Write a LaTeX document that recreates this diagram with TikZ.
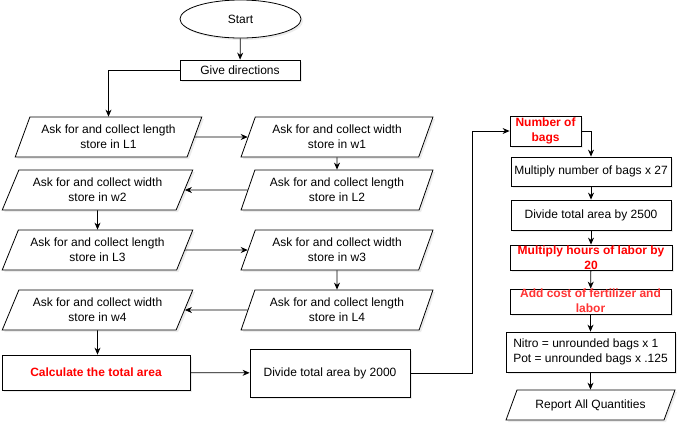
\documentclass[tikz,border=0pt]{standalone}
\usepackage{fontspec}
\setmainfont{Liberation Sans}
\usetikzlibrary{shapes.geometric,arrows.meta,shadows}
\definecolor{lred}{HTML}{FF3333}
\begin{document}
\begin{tikzpicture}[x=1pt,y=-1pt,
  every node/.style={font=\fontsize{12}{15}\selectfont, text=black, inner sep=0pt},
  shd/.style={drop shadow={shadow xshift=2pt, shadow yshift=-2pt, opacity=0.15}},
  box/.style={draw, line width=0.8pt, fill=white, rectangle, align=center, shd},
  para/.style 2 args={draw, line width=0.8pt, fill=white, trapezium, trapezium stretches=true,
    trapezium left angle=#1, trapezium right angle=#2, align=center, shd},
  arr/.style={-{Stealth[length=7pt,width=6pt]}, line width=0.8pt},
  redb/.style={text=red, font=\fontsize{12}{15}\selectfont\bfseries},
]
\useasboundingbox (0,0) rectangle (687,432);

% left part
\node[draw, ellipse, line width=0.8pt, fill=white, shd, minimum width=121, minimum height=38] (start) at (240.5,19) {Start};
\node[box, minimum width=120, minimum height=20] (gd) at (240,70) {Give directions};

\node[para={62.3}{117.7}, minimum width=187, minimum height=40] (L1) at (108.5,137) {Ask for and collect length\\store in L1};
\node[para={64.6}{115.4}, minimum width=192, minimum height=40] (w1) at (337,137) {Ask for and collect width\\store in w1};
\node[para={60.1}{119.9}, minimum width=191, minimum height=40] (w2) at (97.5,190) {Ask for and collect width\\store in w2};
\node[para={64.6}{115.4}, minimum width=192, minimum height=40] (L2) at (337,190) {Ask for and collect length\\store in L2};
\node[para={60.1}{119.9}, minimum width=191, minimum height=40] (L3) at (97.5,250) {Ask for and collect length\\store in L3};
\node[para={64.6}{115.4}, minimum width=192, minimum height=40] (w3) at (337,250) {Ask for and collect width\\store in w3};
\node[para={60.1}{119.9}, minimum width=191, minimum height=40] (w4) at (97.5,310) {Ask for and collect width\\store in w4};
\node[para={64.6}{115.4}, minimum width=192, minimum height=40] (L4) at (337,310) {Ask for and collect length\\store in L4};

\node[box, redb, minimum width=188, minimum height=35] (calc) at (96,372.5) {Calculate the total area};
\node[box, minimum width=160, minimum height=48] (d2000) at (330,373) {Divide total area by 2000};

% right part
\node[box, redb, minimum width=71, minimum height=30] (bags) at (545.5,131) {Number of\\bags};
\node[box, minimum width=160, minimum height=29] (m27) at (591,171.5) {Multiply number of bags x 27};
\node[box, minimum width=160, minimum height=30] (d2500) at (591,215) {Divide total area by 2500};
\node[box, minimum width=162, minimum height=25] (hours) at (591,257.5) {};
\node[redb, align=center] (hourst) at (591,258) {Multiply hours of labor by\\20};
\node[box, minimum width=161, minimum height=25] (cost) at (590.5,301.5) {};
\node[redb, text=lred, align=center] (costt) at (590.5,300.5) {Add cost of fertilizer and\\labor};
\node[box, align=left, minimum width=169, minimum height=40] (nitro) at (590.5,352) {Nitro = unrounded bags x 1\\Pot = unrounded bags x .125};
\node[para={53.7}{126.3}, minimum width=169, minimum height=30] (report) at (590.5,405) {Report All Quantities};

% connectors
\draw[arr] (start) -- (gd);
\draw[arr] (gd.west) -| (L1);
\draw[arr] (L1) -- (w1);
\draw[arr] (w1) -- (L2);
\draw[arr] (L2) -- (w2);
\draw[arr] (w2) -- (L3);
\draw[arr] (L3) -- (w3);
\draw[arr] (w3) -- (L4);
\draw[arr] (L4) -- (w4);
\draw[arr] (w4) -- (w4 |- calc.north);
\draw[arr] (calc) -- (d2000);
\draw[arr] (d2000.east) -- ++(62,0) |- (bags.west);
\draw[arr] (bags.east) -| (m27.north);
\draw[arr] (m27) -- (d2500);
\draw[arr] (d2500) -- (hours);
\draw[arr] (hours) -- (cost);
\draw[arr] (cost) -- (nitro);
\draw[arr] (nitro) -- (report);
\end{tikzpicture}
\end{document}
